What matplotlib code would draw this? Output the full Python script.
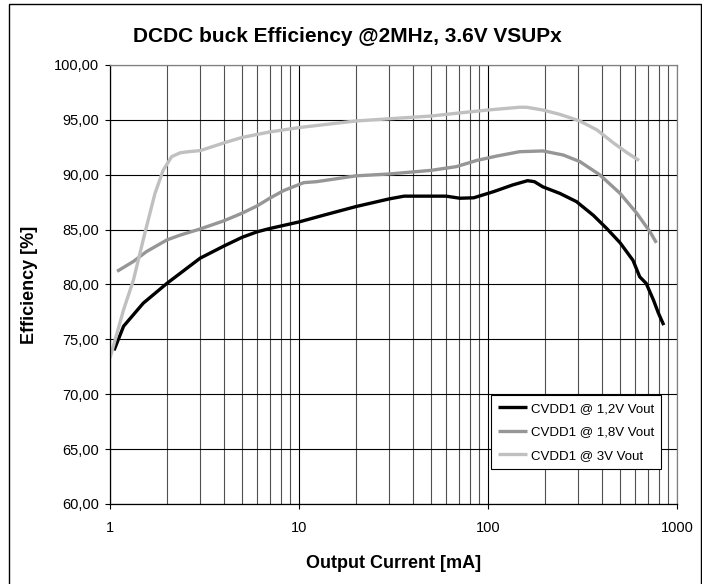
import matplotlib
matplotlib.use("Agg")
import matplotlib.pyplot as plt
from matplotlib.ticker import LogLocator, FixedLocator, NullFormatter
from matplotlib.patches import Rectangle

plt.rcParams['font.family'] = ['Liberation Sans', 'DejaVu Sans']

title = "DCDC buck Efficiency @2MHz, 3.6V VSUPx"
xlabel = "Output Current [mA]"
ylabel = "Efficiency [%]"

series_names = ["CVDD1 @ 1,2V Vout", "CVDD1 @ 1,8V Vout", "CVDD1 @ 3V Vout"]
series_colors = ["#000000", "#969696", "#c0c0c0"]

i_12 = [1.05, 1.18, 1.5, 2.0, 3.0, 4.0, 5.0, 6.0, 7.0, 10, 13.4, 20, 30, 36, 60,
        71, 84, 107, 135, 162, 176, 195, 240, 294, 361, 425, 500, 585, 635, 687,
        750, 797, 851]
eff_12 = [74.0, 76.2, 78.3, 80.1, 82.4, 83.5, 84.3, 84.8, 85.1, 85.7, 86.3, 87.1,
          87.8, 88.05, 88.05, 87.86, 87.9, 88.46, 89.07, 89.46, 89.37, 88.9, 88.3,
          87.55, 86.3, 85.1, 83.8, 82.2, 80.7, 80.1, 78.6, 77.4, 76.3]

i_18 = [1.09, 1.33, 1.56, 2.0, 2.35, 3.0, 4.0, 5.0, 6.0, 7.0, 8.3, 10.6, 12.4, 20,
        30, 50, 68, 87, 111, 147, 195, 250, 306, 390, 500, 612, 720, 778]
eff_18 = [81.2, 82.1, 83.0, 84.06, 84.5, 85.06, 85.8, 86.5, 87.16, 87.86, 88.56,
          89.28, 89.37, 89.9, 90.07, 90.4, 90.74, 91.3, 91.7, 92.1, 92.17, 91.8,
          91.2, 90.0, 88.3, 86.5, 84.8, 83.8]

i_30 = [1.0, 1.18, 1.33, 1.53, 1.73, 1.91, 2.12, 2.35, 2.6, 3.0, 4.0, 5.0, 7.0, 10,
        20, 30, 50, 68, 100, 147, 160, 195, 240, 306, 376, 461, 545, 630]
eff_30 = [73.3, 77.7, 80.4, 84.7, 88.3, 90.4, 91.65, 92.0, 92.1, 92.2, 92.9, 93.4,
          93.9, 94.3, 94.9, 95.1, 95.35, 95.6, 95.9, 96.15, 96.15, 95.9, 95.5, 94.9,
          94.1, 92.9, 92.0, 91.3]

x_ticks = [1, 10, 100, 1000]
x_ticklabels = ["1", "10", "100", "1000"]
y_ticks = [60, 65, 70, 75, 80, 85, 90, 95, 100]
y_ticklabels = ["60,00", "65,00", "70,00", "75,00", "80,00", "85,00", "90,00", "95,00", "100,00"]

W, H = 702, 584
fig = plt.figure(figsize=(W / 100, H / 100), dpi=100)
ax = fig.add_axes([110 / W, 80 / H, 567 / W, 439 / H])

ax.set_xscale('log')
ax.set_xlim(1, 1000)
ax.set_ylim(60, 100)

ax.xaxis.set_major_locator(FixedLocator(x_ticks))
ax.set_xticklabels(x_ticklabels)
ax.xaxis.set_minor_locator(LogLocator(base=10, subs=[2, 3, 4, 5, 6, 7, 8, 9]))
ax.xaxis.set_minor_formatter(NullFormatter())
ax.set_yticks(y_ticks)
ax.set_yticklabels(y_ticklabels)

ax.tick_params(axis='both', which='major', direction='out', length=3.6, width=0.8,
               labelsize=10.5, colors='black')
ax.tick_params(axis='x', which='major', pad=9)
ax.tick_params(axis='y', which='major', pad=4)
ax.tick_params(axis='x', which='minor', length=0)

ax.grid(which='major', axis='both', color='black', linewidth=0.8)
ax.grid(which='minor', axis='x', color='#505050', linewidth=0.8)
ax.set_axisbelow(True)

for s in ['left', 'bottom']:
    ax.spines[s].set_color('black')
    ax.spines[s].set_linewidth(0.9)
for s in ['top', 'right']:
    ax.spines[s].set_color('#808080')
    ax.spines[s].set_linewidth(0.9)

data = [(i_12, eff_12), (i_18, eff_18), (i_30, eff_30)]
for (xs, ys), name, col in zip(data, series_names, series_colors):
    ax.plot(xs, ys, color=col, linewidth=2.4, label=name, solid_capstyle='butt')

leg = ax.legend(loc='lower right', bbox_to_anchor=(0.972, 0.08), borderaxespad=0,
                fontsize=9.5, frameon=True, fancybox=False, framealpha=1,
                edgecolor='black', handlelength=2.2, handletextpad=0.25,
                borderpad=0.55, labelspacing=0.85)
leg.get_frame().set_linewidth(0.8)

fig.text(347 / W, 1 - 36 / H, title, ha='center', va='center', fontsize=15,
         fontweight='bold')
fig.text(394 / W, 1 - 563 / H, xlabel, ha='center', va='center', fontsize=13,
         fontweight='bold')
fig.text(30 / W, 1 - 284.5 / H, ylabel, ha='center', va='center', fontsize=13,
         fontweight='bold', rotation=90)

fig.add_artist(Rectangle((8.5 / W, -0.1), (700.5 - 8.5) / W, 1.1 - 3.5 / H,
                         transform=fig.transFigure, fill=False,
                         edgecolor='black', linewidth=1.0))

fig.savefig("out.png", dpi=100)
